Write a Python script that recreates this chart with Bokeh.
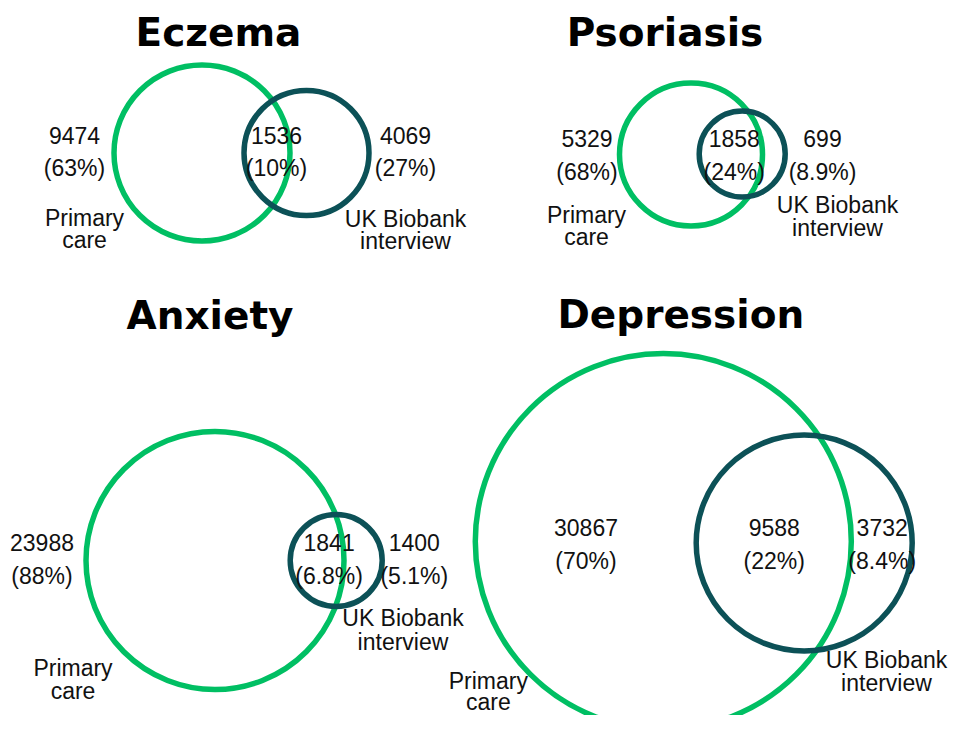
from bokeh.plotting import figure
from bokeh.models import Range1d, ColumnDataSource
from bokeh.embed import file_html
from bokeh.resources import INLINE
from bokeh.core.properties import value

# ---------------- data ----------------
diseases = ["Eczema", "Psoriasis", "Anxiety", "Depression"]
primary_only = [9474, 5329, 23988, 30867]
both_sources = [1536, 1858, 1841, 9588]
ukb_only = [4069, 699, 1400, 3732]
primary_only_pct = ["63%", "68%", "88%", "70%"]
both_pct = ["10%", "24%", "6.8%", "22%"]
ukb_only_pct = ["27%", "8.9%", "5.1%", "8.4%"]
source_primary = ["Primary", "care"]
source_ukb = ["UK Biobank", "interview"]

# ---------------- layout (picture pixel coordinates, text baselines) ----------------
title_x = [218, 664.5, 209.5, 680.3]
title_y = [46, 46, 329, 328]
green_cx = [201.5, 690.5, 214.5, 662.8]
green_cy = [152.5, 154, 560, 541]
green_r = [88, 71.5, 129, 188]
dark_cx = [306, 741.7, 335.7, 803.7]
dark_cy = [152.5, 153.5, 560, 542.5]
dark_r = [62.5, 43, 46, 108]
num_x = [[74, 276, 405], [586.5, 733.8, 822], [41.5, 328.6, 413.8], [585.5, 773.8, 881.7]]
row1_y = [143, 146, 550, 535]
row2_y = [176, 180, 584, 568.3]
prim_lab_x = [84, 586, 72.5, 487.8]
prim_lab_y = [[226, 248], [222.7, 245], [675.7, 698.3], [689, 710]]
ukb_lab_x = [405, 837, 402.5, 886]
ukb_lab_y = [[227, 249], [213, 236], [625.7, 649.3], [667.7, 690.7]]

GREEN = "#00BF63"
DARK = "#0C5157"
FONT = "Liberation Sans"
TITLE_FONT = "DejaVu Sans"
TITLE_SIZE = 39
TEXT_SIZE = 23

W, H = 950, 715
p = figure(width=W, height=H, output_backend="svg", toolbar_location=None,
           x_range=Range1d(0, W), y_range=Range1d(H, 0),
           x_axis_location=None, y_axis_location=None, min_border=0)
p.grid.visible = False
p.outline_line_color = None
p.background_fill_color = "white"
p.border_fill_color = "white"

p.circle(x=green_cx, y=green_cy, radius=green_r, fill_color=None,
         line_color=GREEN, line_width=5.5)
p.circle(x=dark_cx, y=dark_cy, radius=dark_r, fill_color=None,
         line_color=DARK, line_width=5.5)

# titles (placed by vertical middle of the text)
title_mid = [b - 0.36 * TITLE_SIZE for b in title_y]
p.text(x=title_x, y=title_mid, text=diseases, text_align="center",
       text_baseline="middle", text_font=value(TITLE_FONT),
       text_font_style="bold", text_font_size=f"{TITLE_SIZE}px", text_color="black")

# numbers and source labels
tx, ty, tt = [], [], []
for i in range(len(diseases)):
    counts = [primary_only[i], both_sources[i], ukb_only[i]]
    pcts = [primary_only_pct[i], both_pct[i], ukb_only_pct[i]]
    for j in range(3):
        tx += [num_x[i][j], num_x[i][j]]
        ty += [row1_y[i], row2_y[i]]
        tt += [str(counts[j]), "(" + pcts[j] + ")"]
    for k in range(2):
        tx.append(prim_lab_x[i]); ty.append(prim_lab_y[i][k]); tt.append(source_primary[k])
        tx.append(ukb_lab_x[i]); ty.append(ukb_lab_y[i][k]); tt.append(source_ukb[k])

ty = [b - 0.35 * TEXT_SIZE for b in ty]
src = ColumnDataSource(dict(x=tx, y=ty, text=tt))
p.text(x="x", y="y", text="text", source=src, text_align="center",
       text_baseline="middle", text_font=value(FONT),
       text_font_size=f"{TEXT_SIZE}px", text_color="#111111")

open("out.html", "w").write(file_html(p, INLINE))
